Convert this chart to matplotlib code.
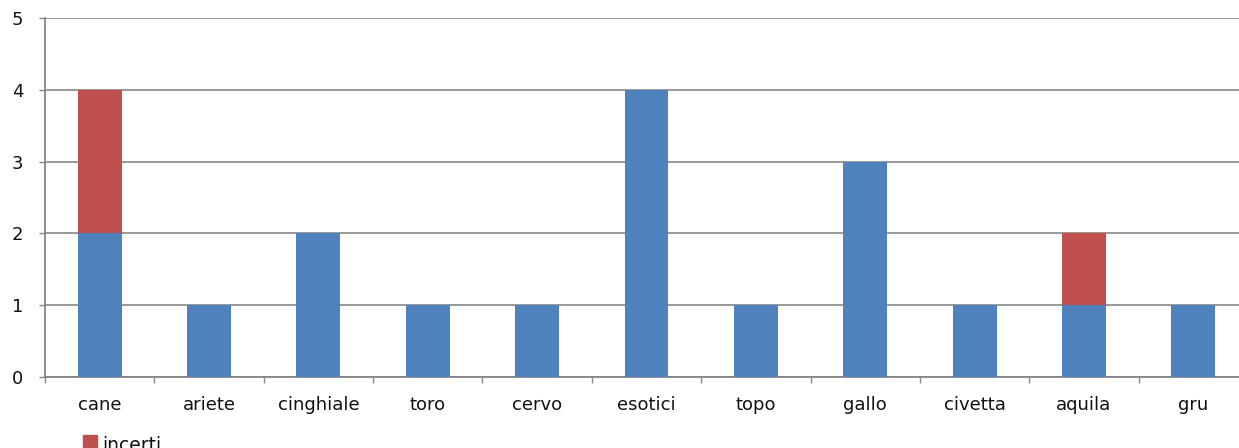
import numpy as np
import matplotlib
matplotlib.use("Agg")
import matplotlib.pyplot as plt
from matplotlib.patches import Rectangle

# categorie e conteggi
animali = ["cane", "ariete", "cinghiale", "toro", "cervo", "esotici",
           "topo", "gallo", "civetta", "aquila", "gru"]
certi = [2, 1, 2, 1, 1, 4, 1, 3, 1, 1, 1]
incerti = [2, 0, 0, 0, 0, 0, 0, 0, 0, 1, 0]

blu = "#4F81BD"
rosso = "#C0504D"
grigio = "#868686"

plt.rcParams["font.family"] = ["DejaVu Sans"]
fs = 13

W, H = 1239, 448
fig = plt.figure(figsize=(W / 100, H / 100), dpi=100)
# l'area del grafico sborda un po' oltre il bordo destro
ax = fig.add_axes([45 / W, 71 / H, 1203 / W, 359 / H])

x = np.arange(len(animali))
ax.bar(x, certi, width=0.402, color=blu, label="certi", zorder=3)
ax.bar(x, incerti, width=0.402, bottom=certi, color=rosso, label="incerti", zorder=3)

ax.set_xlim(-0.5, len(animali) - 0.5)
ax.set_ylim(0, 5)

# griglia orizzontale
ax.set_yticks(range(6))
ax.yaxis.grid(True, color=grigio, linewidth=1.2, zorder=0)
ax.tick_params(axis="y", length=4, width=1, color=grigio, direction="out",
               pad=11.5, labelsize=fs, labelcolor="#111111")

# tacche tra le categorie, etichette al centro
ax.set_xticks(np.arange(-0.5, len(animali) + 0.5, 1))
ax.set_xticklabels([])
ax.set_xticks(x, minor=True)
ax.set_xticklabels(animali, minor=True)
ax.tick_params(axis="x", which="major", length=4, width=1, color=grigio, direction="out")
ax.tick_params(axis="x", which="minor", length=0, pad=14, labelsize=fs,
               labelcolor="#111111")

for lato in ["top", "right"]:
    ax.spines[lato].set_visible(False)
for lato in ["left", "bottom"]:
    ax.spines[lato].set_color(grigio)
    ax.spines[lato].set_linewidth(1.3)

# legenda in basso (tagliata dal bordo)
fig.patches.append(Rectangle((83 / W, (H - 448) / H), 14 / W, 13 / H,
                             transform=fig.transFigure, color=rosso))
fig.text(102 / W, (H - 451) / H, "incerti", fontsize=13.5, color="#111111",
         ha="left", va="baseline")

fig.savefig("out.png", dpi=100)
